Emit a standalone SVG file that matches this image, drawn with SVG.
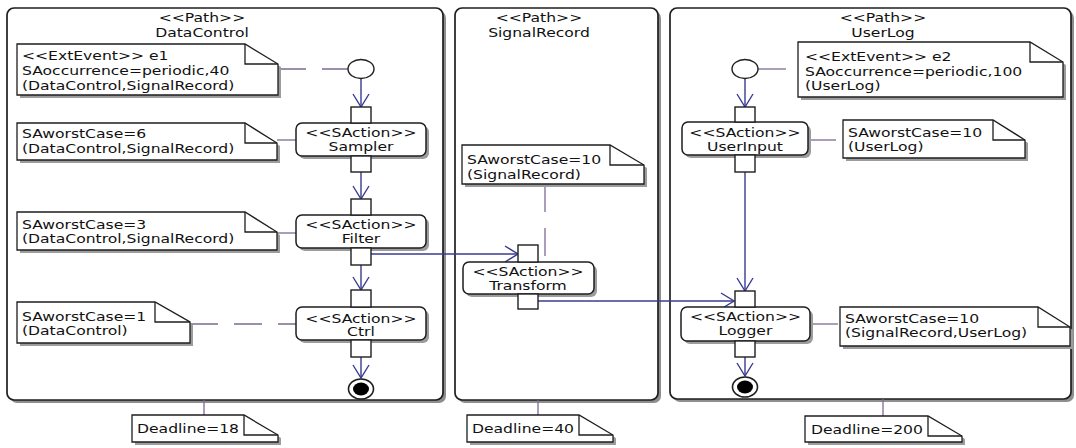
<svg xmlns="http://www.w3.org/2000/svg" width="1076" height="448" viewBox="0 0 1076 448">
<defs>
<style>
.pshadow{fill:#8e8e8e}
.panel{fill:#fff;stroke:#1e1e1e;stroke-width:1.7}
.shadow{fill:#9c9c9c}
.note{fill:#fff;stroke:#1e1e1e;stroke-width:1.3}
.fold{fill:none;stroke:#1e1e1e;stroke-width:1.3}
.act{fill:#fff;stroke:#1e1e1e;stroke-width:1.5}
.pin{fill:#fff;stroke:#1e1e1e;stroke-width:1.4}
.t{font-family:"DejaVu Sans",Verdana,sans-serif;font-size:13px;fill:#111}
.c{text-anchor:middle}
.flow{stroke:#3a3a92;stroke-width:1.4;fill:none}
.dash{stroke:#7d6a94;stroke-width:1.3;stroke-dasharray:28 16;fill:none}
.anc{stroke:#7d6a94;stroke-width:1.3;fill:none}
.start{fill:#fff;stroke:#1e1e1e;stroke-width:1.4}
.endo{fill:#fff;stroke:#1e1e1e;stroke-width:1.6}
.endi{fill:#000}
</style>
<marker id="arr" markerUnits="userSpaceOnUse" viewBox="-1 -9 15 18" markerWidth="15" markerHeight="18" refX="13" refY="0" orient="auto">
<path d="M0,-8 L13,0 L0,8" fill="none" stroke="#3a3a92" stroke-width="1.4"/>
</marker>
</defs>
<rect width="1076" height="448" fill="#fff"/>

<g id="panel-datacontrol">
<rect class="pshadow" x="10" y="11" width="436" height="392" rx="7"/>
<rect class="panel" x="7" y="8" width="436" height="392" rx="7"/>
<g transform="scale(1.2,1)"><text class="t c" x="168.33" y="22">&lt;&lt;Path&gt;&gt;</text><text class="t c" x="168.33" y="37">DataControl</text></g>
</g>
<g id="panel-signalrecord">
<rect class="pshadow" x="458" y="11" width="203" height="392" rx="7"/>
<rect class="panel" x="455" y="8" width="203" height="392" rx="7"/>
<g transform="scale(1.2,1)"><text class="t c" x="449.17" y="22">&lt;&lt;Path&gt;&gt;</text><text class="t c" x="449.17" y="37">SignalRecord</text></g>
</g>
<g id="panel-userlog">
<rect class="pshadow" x="673" y="11" width="401" height="391" rx="7"/>
<rect class="panel" x="670" y="8" width="401" height="391" rx="7"/>
<g transform="scale(1.2,1)"><text class="t c" x="735.83" y="22">&lt;&lt;Path&gt;&gt;</text><text class="t c" x="735.83" y="37">UserLog</text></g>
</g>

<g id="connectors">
<path class="dash" d="M278,69 H348"/>
<path class="anc" d="M277,140 H296"/>
<path class="anc" d="M277,233 H296"/>
<path class="dash" d="M190,324 H296"/>
<path class="dash" d="M545,184 V262"/>
<path class="dash" d="M758,69 H798"/>
<path class="dash" d="M808,140 H843"/>
<path class="dash" d="M810,324 H840"/>
<path class="anc" d="M204,400 V415"/>
<path class="anc" d="M538,400 V415"/>
<path class="anc" d="M883,399 V416"/>
<path class="flow" marker-end="url(#arr)" d="M361,78 V107"/>
<path class="flow" marker-end="url(#arr)" d="M361,172 V199"/>
<path class="flow" marker-end="url(#arr)" d="M361,265 V290"/>
<path class="flow" marker-end="url(#arr)" d="M361,357 V378"/>
<path class="flow" marker-end="url(#arr)" d="M371,254 H518"/>
<path class="flow" marker-end="url(#arr)" d="M538,301 H734"/>
<path class="flow" marker-end="url(#arr)" d="M745,78 V107"/>
<path class="flow" marker-end="url(#arr)" d="M745,172 V291"/>
<path class="flow" marker-end="url(#arr)" d="M745,357 V376"/>
</g>

<g id="note-e1">
<path class="shadow" d="M20,47 H248 L281,67 V98 H20 Z"/>
<path class="note" d="M17,44 H245 L278,64 V95 H17 Z"/>
<path class="fold" d="M245,44 V64 H278"/>
<g transform="scale(1.2,1)"><text class="t" x="18.33" y="60">&lt;&lt;ExtEvent&gt;&gt; e1</text><text class="t" x="18.33" y="75">SAoccurrence=periodic,40</text><text class="t" x="18.33" y="90">(DataControl,SignalRecord)</text></g>
</g>
<g id="start-e1"><ellipse class="start" cx="361" cy="69" rx="13" ry="9.5"/></g>

<g id="note-sampler">
<path class="shadow" d="M20,126 H248 L280,146 V163 H20 Z"/>
<path class="note" d="M17,123 H245 L277,143 V160 H17 Z"/>
<path class="fold" d="M245,123 V143 H277"/>
<g transform="scale(1.2,1)"><text class="t" x="18.33" y="138">SAworstCase=6</text><text class="t" x="18.33" y="153">(DataControl,SignalRecord)</text></g>
</g>
<g id="action-sampler">
<rect class="shadow" x="299" y="126" width="130" height="33" rx="6"/>
<rect class="act" x="296" y="123" width="130" height="33" rx="6"/>
<rect class="pin" x="351" y="107" width="20" height="16"/>
<rect class="pin" x="351" y="156" width="20" height="16"/>
<g transform="scale(1.2,1)"><text class="t c" x="300.83" y="137">&lt;&lt;SAction&gt;&gt;</text><text class="t c" x="300.83" y="151">Sampler</text></g>
</g>

<g id="note-filter">
<path class="shadow" d="M20,215 H248 L280,235 V253 H20 Z"/>
<path class="note" d="M17,212 H245 L277,232 V250 H17 Z"/>
<path class="fold" d="M245,212 V232 H277"/>
<g transform="scale(1.2,1)"><text class="t" x="18.33" y="229">SAworstCase=3</text><text class="t" x="18.33" y="243">(DataControl,SignalRecord)</text></g>
</g>
<g id="action-filter">
<rect class="shadow" x="299" y="218" width="130" height="33" rx="6"/>
<rect class="act" x="296" y="215" width="130" height="33" rx="6"/>
<rect class="pin" x="351" y="199" width="20" height="16"/>
<rect class="pin" x="351" y="248" width="20" height="17"/>
<g transform="scale(1.2,1)"><text class="t c" x="300.83" y="229">&lt;&lt;SAction&gt;&gt;</text><text class="t c" x="300.83" y="243">Filter</text></g>
</g>

<g id="note-ctrl">
<path class="shadow" d="M20,305 H158 L193,325 V346 H20 Z"/>
<path class="note" d="M17,302 H155 L190,322 V343 H17 Z"/>
<path class="fold" d="M155,302 V322 H190"/>
<g transform="scale(1.2,1)"><text class="t" x="18.33" y="321">SAworstCase=1</text><text class="t" x="18.33" y="335">(DataControl)</text></g>
</g>
<g id="action-ctrl">
<rect class="shadow" x="299" y="310" width="130" height="33" rx="6"/>
<rect class="act" x="296" y="307" width="130" height="33" rx="6"/>
<rect class="pin" x="351" y="290" width="20" height="17"/>
<rect class="pin" x="351" y="340" width="20" height="17"/>
<g transform="scale(1.2,1)"><text class="t c" x="300.83" y="323">&lt;&lt;SAction&gt;&gt;</text><text class="t c" x="300.83" y="336">Ctrl</text></g>
</g>
<g id="final-datacontrol">
<ellipse class="endo" cx="361" cy="389" rx="12.5" ry="10"/>
<ellipse class="endi" cx="361" cy="389" rx="8" ry="6.5"/>
</g>

<g id="note-transform">
<path class="shadow" d="M465,148 H613 L647,168 V187 H465 Z"/>
<path class="note" d="M462,145 H610 L644,165 V184 H462 Z"/>
<path class="fold" d="M610,145 V165 H644"/>
<g transform="scale(1.2,1)"><text class="t" x="389.17" y="164">SAworstCase=10</text><text class="t" x="389.17" y="179">(SignalRecord)</text></g>
</g>
<g id="action-transform">
<rect class="shadow" x="466" y="265" width="131" height="32" rx="6"/>
<rect class="act" x="463" y="262" width="131" height="32" rx="6"/>
<rect class="pin" x="518" y="245" width="20" height="17"/>
<rect class="pin" x="518" y="294" width="20" height="15"/>
<g transform="scale(1.2,1)"><text class="t c" x="440" y="276">&lt;&lt;SAction&gt;&gt;</text><text class="t c" x="440" y="290">Transform</text></g>
</g>

<g id="note-e2">
<path class="shadow" d="M801,45 H1033 L1066,65 V100 H801 Z"/>
<path class="note" d="M798,42 H1030 L1063,62 V97 H798 Z"/>
<path class="fold" d="M1030,42 V62 H1063"/>
<g transform="scale(1.2,1)"><text class="t" x="670.83" y="61">&lt;&lt;ExtEvent&gt;&gt; e2</text><text class="t" x="670.83" y="76">SAoccurrence=periodic,100</text><text class="t" x="670.83" y="90">(UserLog)</text></g>
</g>
<g id="start-e2"><ellipse class="start" cx="745" cy="69" rx="13" ry="9.5"/></g>

<g id="note-userinput">
<path class="shadow" d="M846,123 H996 L1028,143 V161 H846 Z"/>
<path class="note" d="M843,120 H993 L1025,140 V158 H843 Z"/>
<path class="fold" d="M993,120 V140 H1025"/>
<g transform="scale(1.2,1)"><text class="t" x="706.67" y="137">SAworstCase=10</text><text class="t" x="706.67" y="151">(UserLog)</text></g>
</g>
<g id="action-userinput">
<rect class="shadow" x="685" y="125" width="126" height="33" rx="6"/>
<rect class="act" x="682" y="122" width="126" height="33" rx="6"/>
<rect class="pin" x="735" y="107" width="20" height="15"/>
<rect class="pin" x="735" y="155" width="20" height="17"/>
<g transform="scale(1.2,1)"><text class="t c" x="620.83" y="137">&lt;&lt;SAction&gt;&gt;</text><text class="t c" x="620.83" y="151">UserInput</text></g>
</g>

<g id="note-logger">
<path class="shadow" d="M843,310 H1041 L1073,330 V349 H843 Z"/>
<path class="note" d="M840,307 H1038 L1070,327 V346 H840 Z"/>
<path class="fold" d="M1038,307 V327 H1070"/>
<g transform="scale(1.2,1)"><text class="t" x="704.17" y="323">SAworstCase=10</text><text class="t" x="704.17" y="337">(SignalRecord,UserLog)</text></g>
</g>
<g id="action-logger">
<rect class="shadow" x="684" y="310" width="129" height="34" rx="6"/>
<rect class="act" x="681" y="307" width="129" height="34" rx="6"/>
<rect class="pin" x="735" y="291" width="20" height="16"/>
<rect class="pin" x="735" y="341" width="20" height="16"/>
<g transform="scale(1.2,1)"><text class="t c" x="621.25" y="321">&lt;&lt;SAction&gt;&gt;</text><text class="t c" x="621.25" y="335">Logger</text></g>
</g>
<g id="final-userlog">
<ellipse class="endo" cx="745" cy="387" rx="12.5" ry="10"/>
<ellipse class="endi" cx="745" cy="387" rx="8" ry="6.5"/>
</g>

<g id="deadline-18">
<path class="shadow" d="M135,418 H247 L281,438 V445 H135 Z"/>
<path class="note" d="M132,415 H244 L278,435 V442 H132 Z"/>
<path class="fold" d="M244,415 V435 H278"/>
<g transform="scale(1.2,1)"><text class="t" x="114.17" y="433">Deadline=18</text></g>
</g>
<g id="deadline-40">
<path class="shadow" d="M470,418 H582 L616,438 V445 H470 Z"/>
<path class="note" d="M467,415 H579 L613,435 V442 H467 Z"/>
<path class="fold" d="M579,415 V435 H613"/>
<g transform="scale(1.2,1)"><text class="t" x="393.33" y="433">Deadline=40</text></g>
</g>
<g id="deadline-200">
<path class="shadow" d="M808,419 H931 L965,439 V445 H808 Z"/>
<path class="note" d="M805,416 H928 L962,436 V442 H805 Z"/>
<path class="fold" d="M928,416 V436 H962"/>
<g transform="scale(1.2,1)"><text class="t" x="675.83" y="434">Deadline=200</text></g>
</g>
</svg>
